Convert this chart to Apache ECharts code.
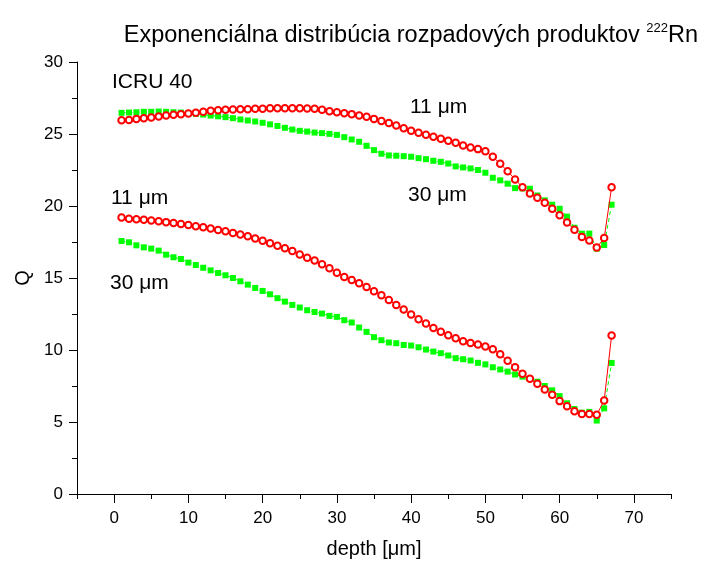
<!DOCTYPE html>
<html><head><meta charset="utf-8">
<script src="https://cdn.jsdelivr.net/npm/echarts@6/dist/echarts.min.js"></script>
<style>html,body{margin:0;padding:0;background:#fff}#c{width:706px;height:564px}</style>
</head><body><div id="c"></div>
<script>
const depth = [1,2,3,4,5,6,7,8,9,10,11,12,13,14,15,16,17,18,19,20,21,22,23,24,25,26,27,28,29,30,31,32,33,34,35,36,37,38,39,40,41,42,43,44,45,46,47,48,49,50,51,52,53,54,55,56,57,58,59,60,61,62,63,64,65,66,67];
const upper11 = [25.96,25.98,26.05,26.10,26.14,26.21,26.28,26.33,26.38,26.42,26.47,26.54,26.61,26.65,26.68,26.70,26.72,26.72,26.75,26.76,26.78,26.79,26.79,26.79,26.79,26.77,26.75,26.68,26.58,26.51,26.44,26.38,26.28,26.19,26.05,25.91,25.77,25.59,25.40,25.22,25.08,24.94,24.81,24.67,24.53,24.39,24.20,24.06,23.95,23.80,23.42,22.93,22.42,21.84,21.31,20.87,20.57,20.23,19.81,19.35,18.86,18.35,17.84,17.61,17.11,17.77,21.31];
const upper30 = [26.47,26.49,26.51,26.54,26.54,26.56,26.54,26.51,26.49,26.44,26.40,26.35,26.28,26.23,26.17,26.10,26.01,25.94,25.87,25.78,25.67,25.56,25.43,25.31,25.22,25.17,25.10,25.06,25.01,24.94,24.78,24.62,24.46,24.18,23.88,23.63,23.51,23.49,23.46,23.42,23.32,23.25,23.14,23.07,22.95,22.75,22.68,22.61,22.50,22.31,21.96,21.78,21.55,21.24,21.22,21.20,20.73,20.39,20.09,19.81,19.26,18.49,18.08,18.08,17.04,17.29,20.09];
const lower11 = [19.20,19.12,19.08,19.04,18.99,18.94,18.88,18.82,18.75,18.68,18.60,18.52,18.43,18.34,18.24,18.13,18.02,17.90,17.75,17.58,17.42,17.24,17.06,16.87,16.64,16.41,16.21,15.95,15.67,15.37,15.07,14.86,14.63,14.38,14.08,13.80,13.47,13.13,12.81,12.46,12.14,11.84,11.53,11.26,11.03,10.82,10.61,10.49,10.38,10.25,10.05,9.70,9.25,8.80,8.35,8.00,7.65,7.25,6.90,6.45,6.10,5.75,5.55,5.55,5.50,6.50,11.00];
const lower30 = [17.57,17.48,17.27,17.13,17.04,16.90,16.62,16.44,16.32,16.07,15.90,15.71,15.53,15.35,15.19,15.00,14.77,14.54,14.31,14.10,13.87,13.60,13.36,13.13,12.95,12.76,12.64,12.53,12.37,12.30,12.07,11.91,11.56,11.26,10.89,10.68,10.52,10.47,10.35,10.31,10.19,10.03,9.89,9.78,9.62,9.43,9.36,9.27,9.11,9.00,8.80,8.65,8.50,8.30,8.15,8.00,7.80,7.50,7.20,6.80,6.30,5.90,5.65,5.70,5.10,5.95,9.10];
const xMajorTicks = [0,10,20,30,40,50,60,70];
const xMinorTicks = [-5,5,15,25,35,45,55,65,75];
const titleText = 'Exponenciálna distribúcia rozpadových produktov ';
const titleSup = '222';
const titleEnd = 'Rn';
const xName = 'depth [μm]';
const yName = 'Q';

const FONT = '"Liberation Sans", Arial, sans-serif';
const pairs = arr => depth.map((d, i) => [d, arr[i]]);
const chart = echarts.init(document.getElementById('c'), null, {renderer: 'canvas'});
const green = '#00ff00', red = '#ff0000';
const greenSeries = (arr) => ({
  type: 'line', data: pairs(arr), symbol: 'rect', symbolSize: 6,
  itemStyle: {color: green}, lineStyle: {color: green, width: 1, type: [4, 3]},
  emphasis: {disabled: true}, z: 2
});
const redSeries = (arr) => ({
  type: 'line', data: pairs(arr), symbol: 'emptyCircle', symbolSize: 6.5,
  itemStyle: {color: red, borderColor: red, borderWidth: 0.8}, lineStyle: {color: red, width: 1},
  emphasis: {disabled: true}, z: 3
});
const lbl = (text, x, y) => ({type: 'text', x: x, y: y, style: {text: text, font: '21px ' + FONT, fill: '#000', verticalAlign: 'middle', align: 'left'}});
chart.setOption({
  animation: false,
  backgroundColor: '#fff',
  title: {
    text: titleText + '{sup|' + titleSup + '}' + titleEnd,
    right: 3, top: 17,
    textStyle: {fontSize: 23.5, fontWeight: 'normal', color: '#000', fontFamily: FONT, lineHeight: 27,
      rich: {sup: {fontSize: 13, lineHeight: 13, verticalAlign: 'top', fontFamily: FONT, color: '#000'}}}
  },
  grid: {left: 77, right: 35, top: 62, bottom: 69},
  xAxis: [{
    type: 'value', min: -5, max: 75, interval: 5, position: 'bottom',
    axisLine: {show: true, onZero: false, lineStyle: {color: '#000', width: 1}},
    axisTick: {show: true, customValues: xMajorTicks, length: 9, lineStyle: {color: '#000'}},
    axisLabel: {customValues: xMajorTicks, fontSize: 17, color: '#000', fontFamily: FONT, margin: 16},
    splitLine: {show: false},
    name: xName, nameLocation: 'middle', nameGap: 45,
    nameTextStyle: {fontSize: 20, color: '#000', fontFamily: FONT}
  }, {
    type: 'value', min: -5, max: 75, interval: 5, position: 'bottom', gridIndex: 0,
    axisLine: {show: false, onZero: false},
    axisTick: {show: true, customValues: xMinorTicks, length: 5, lineStyle: {color: '#000'}},
    axisLabel: {show: false}, splitLine: {show: false}
  }],
  yAxis: {
    type: 'value', min: 0, max: 30, interval: 5,
    axisLine: {show: true, onZero: false, lineStyle: {color: '#000', width: 1}},
    axisTick: {show: true, length: 8, lineStyle: {color: '#000'}},
    minorTick: {show: true, splitNumber: 2, length: 5, lineStyle: {color: '#000'}},
    axisLabel: {fontSize: 17, color: '#000', fontFamily: FONT, margin: 14},
    splitLine: {show: false},
    name: yName, nameLocation: 'middle', nameGap: 38, nameRotate: 90,
    nameTextStyle: {fontSize: 20, color: '#000', fontFamily: FONT}
  },
  graphic: [
    lbl('ICRU 40', 112, 82),
    lbl('11 μm', 410, 107),
    lbl('30 μm', 408, 195),
    lbl('11 μm', 111, 198),
    lbl('30 μm', 110, 283)
  ],
  series: [greenSeries(upper30), greenSeries(lower30), redSeries(upper11), redSeries(lower11)]
});
</script></body></html>
